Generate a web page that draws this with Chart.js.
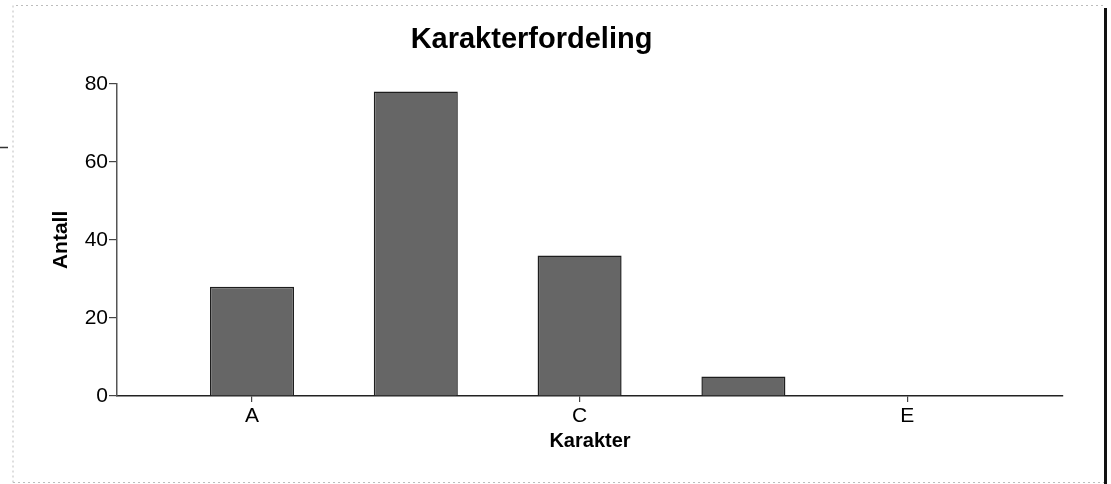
<!DOCTYPE html>
<html>
<head>
<meta charset="utf-8">
<script src="https://cdn.jsdelivr.net/npm/chart.js@4"></script>
<style>
  html, body { margin: 0; padding: 0; background: #fff; }
  #wrap { width: 1111px; height: 484px; }
</style>
</head>
<body>
<div id="wrap"><canvas id="barChart" width="1111" height="484"></canvas></div>
<script>
// grades and how many got each
const grades = ['A', 'B', 'C', 'D', 'E'];
const counts = [28, 78, 36, 5, 0];
const yTicks = [0, 20, 40, 60, 80];

const fontFamily = "'Liberation Sans', Arial, sans-serif";

// scanned paper frame around the figure
const framePlugin = {
    id: 'frame',
    afterDraw(chart) {
        const ctx = chart.ctx;
        ctx.save();
        ctx.strokeStyle = '#bdbdbd';
        ctx.lineWidth = 1;
        ctx.setLineDash([2, 3]);
        ctx.beginPath();
        ctx.moveTo(13, 482.5);
        ctx.lineTo(13, 5.5);
        ctx.lineTo(1104, 5.5);
        ctx.moveTo(13, 482.5);
        ctx.lineTo(1104, 482.5);
        ctx.stroke();
        ctx.setLineDash([]);
        ctx.strokeStyle = '#111';
        ctx.lineWidth = 3;
        ctx.beginPath();
        ctx.moveTo(1105.5, 8);
        ctx.lineTo(1105.5, 484);
        ctx.stroke();
        ctx.lineWidth = 1.5;
        ctx.strokeStyle = '#333';
        ctx.beginPath();
        ctx.moveTo(0, 147.5);
        ctx.lineTo(8, 147.5);
        ctx.stroke();
        ctx.restore();
    }
};

const ctx = document.getElementById('barChart').getContext('2d');
const barChart = new Chart(ctx, {
    type: 'bar',
    data: {
        datasets: [{
            label: 'Antall',
            data: counts.map((c, i) => ({ x: i, y: c })),
            backgroundColor: '#666666',
            borderColor: '#1e1e1e',
            borderWidth: 1.5,
            barPercentage: 0.513,
            categoryPercentage: 1.0
        }]
    },
    options: {
        responsive: false,
        animation: false,
        devicePixelRatio: 1,
        layout: { padding: { right: 48 } },
        plugins: {
            legend: { display: false },
            tooltip: { enabled: false },
            title: {
                display: true,
                text: 'Karakterfordeling',
                color: '#000',
                font: { family: fontFamily, size: 29, weight: 'bold' },
                padding: { top: 23, bottom: 26 }
            }
        },
        scales: {
            x: {
                type: 'linear',
                offset: false,
                min: -0.824,
                max: 4.951,
                afterFit(scale) { scale.height = 88; },
                border: { display: true, color: '#222', width: 1.5 },
                grid: { offset: false, drawOnChartArea: false, drawTicks: true, tickLength: 6, color: '#444', lineWidth: 1.2 },
                ticks: {
                    stepSize: 2,
                    includeBounds: false,
                    padding: 2,
                    color: '#000',
                    font: { family: fontFamily, size: 21 },
                    callback: v => grades[v]
                },
                title: {
                    display: true,
                    text: 'Karakter',
                    color: '#000',
                    font: { family: fontFamily, size: 20, weight: 'bold' },
                    padding: { top: 0, bottom: 31 }
                }
            },
            y: {
                min: yTicks[0],
                max: yTicks[yTicks.length - 1],
                afterFit(scale) { scale.width = 117; },
                afterBuildTicks(scale) { scale.ticks = yTicks.map(v => ({ value: v })); },
                border: { display: true, color: '#555', width: 1.5 },
                grid: { drawOnChartArea: false, drawTicks: true, tickLength: 8, color: '#444', lineWidth: 1.2 },
                ticks: {
                    padding: 1,
                    color: '#000',
                    font: { family: fontFamily, size: 21 }
                },
                title: {
                    display: true,
                    text: 'Antall',
                    color: '#000',
                    font: { family: fontFamily, size: 21, weight: 'bold' },
                    padding: { top: 49, bottom: 0 }
                }
            }
        }
    },
    plugins: [framePlugin]
});
</script>
</body>
</html>
